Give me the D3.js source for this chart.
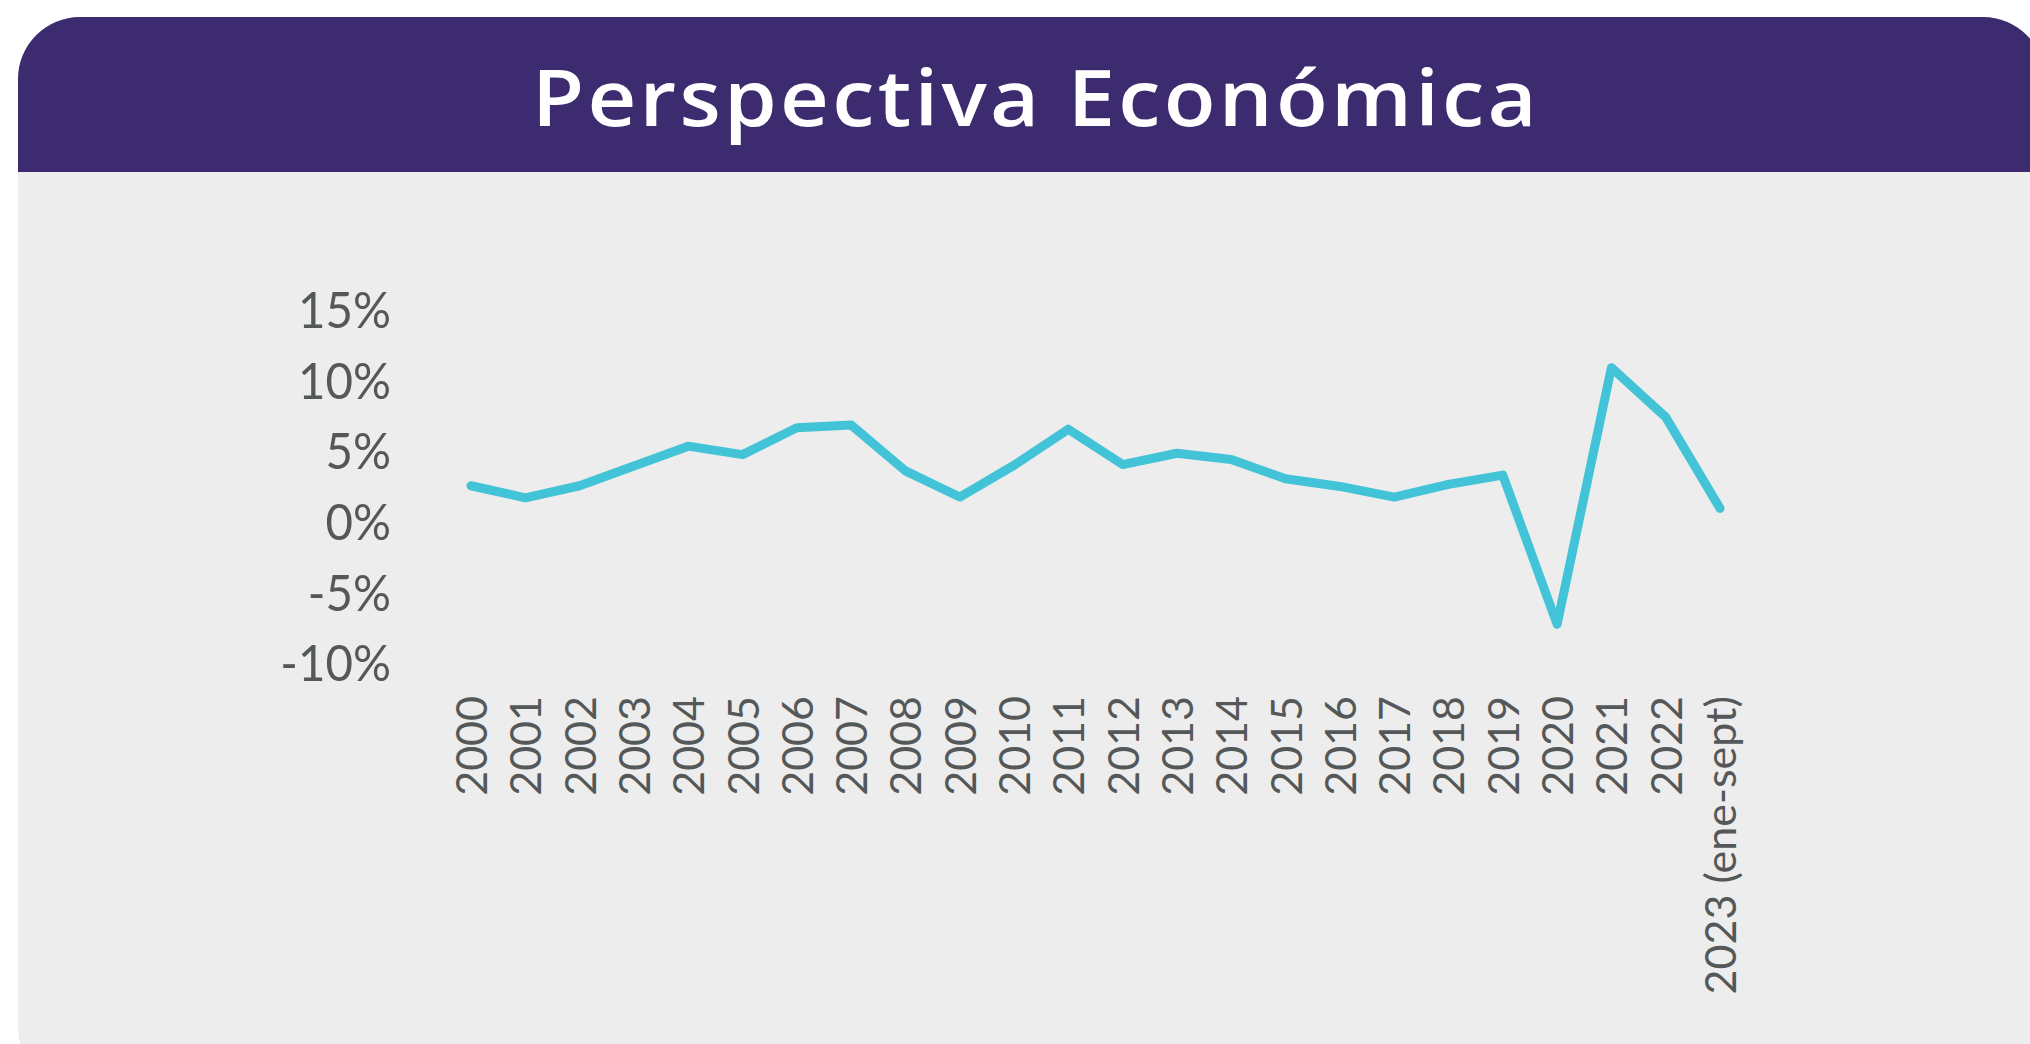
<!DOCTYPE html>
<html lang="es">
<head>
<meta charset="utf-8">
<script src="https://cdn.jsdelivr.net/npm/d3@7"></script>
<title>Perspectiva Económica</title>
<style>
  body { margin: 0; background: #fff; }
  svg { display: block; }
</style>
</head>
<body>
<svg id="chart" width="2030" height="1044"></svg>
<script>
// Data: PIB growth per year (%)
const years = ["2000", "2001", "2002", "2003", "2004", "2005", "2006", "2007", "2008", "2009",
  "2010", "2011", "2012", "2013", "2014", "2015", "2016", "2017", "2018", "2019",
  "2020", "2021", "2022", "2023 (ene-sept)"]
const growth = [2.5, 1.65, 2.5, 3.9, 5.3, 4.7, 6.6, 6.8, 3.55, 1.7,
  3.95, 6.5, 4.0, 4.8, 4.35, 3.0, 2.45, 1.7, 2.6, 3.25,
  -7.3, 10.85, 7.35, 0.9]
const yTicks = [-10, -5, 0, 5, 10, 15]
const title = "Perspectiva Económica"

const svg = d3.select("#chart")

// panel + header
const defs = svg.append("defs")
defs.append("clipPath").attr("id", "panelClip")
  .append("rect")
  .attr("x", 18).attr("y", 17)
  .attr("width", 2027).attr("height", 1072)
  .attr("rx", 62).attr("ry", 62)

const panel = svg.append("g").attr("clip-path", "url(#panelClip)")
panel.append("rect")
  .attr("x", 18).attr("y", 17)
  .attr("width", 2027).attr("height", 1072)
  .attr("fill", "#ededed")
panel.append("rect")
  .attr("x", 18).attr("y", 17)
  .attr("width", 2027).attr("height", 155)
  .attr("fill", "#3d2b6f")

// title: widen the glyphs a bit to fit the header width
const titleText = svg.append("text")
  .text(title)
  .attr("text-anchor", "middle")
  .style("font-family", "'Open Sans', sans-serif")
  .style("font-weight", 600)
  .style("font-size", "78px")
  .style("letter-spacing", "3px")
  .style("font-variant-ligatures", "none")
  .attr("fill", "#ffffff")
const tw = titleText.node().getComputedTextLength()
titleText.attr("transform", `translate(1036,126) scale(${1008 / tw},1)`)

// scales
const x = d3.scalePoint().domain(years).range([471, 1720])
const y = d3.scaleLinear().domain([-10, 15]).range([662.5, 309])

// y axis
const yAxis = d3.axisLeft(y)
  .tickValues(yTicks)
  .tickFormat(d => d + "%")
  .tickSize(0)
  .tickPadding(0)

const gy = svg.append("g")
  .attr("transform", "translate(391,0) scale(0.93,1)")
  .call(yAxis)
gy.select(".domain").remove()
gy.selectAll("text")
  .attr("x", 0)
  .attr("dy", "0.36em")
  .style("font-family", "Lato, sans-serif")
  .style("font-size", "51px")
  .attr("fill", "#555859")

// x axis
const xAxis = d3.axisBottom(x).tickSize(0).tickPadding(0)
const gx = svg.append("g")
  .attr("transform", "translate(0,696)")
  .call(xAxis)
gx.select(".domain").remove()
gx.selectAll("text")
  .attr("x", 0)
  .attr("y", 0)
  .attr("dy", "0.36em")
  .attr("transform", "rotate(-90)")
  .attr("text-anchor", "end")
  .style("font-family", "Lato, sans-serif")
  .style("font-size", "43px")
  .attr("fill", "#555859")

// line
const line = d3.line()
  .x((d, i) => x(years[i]))
  .y(d => y(d))

svg.append("path")
  .datum(growth)
  .attr("fill", "none")
  .attr("stroke", "#42c3d7")
  .attr("stroke-width", 9)
  .attr("stroke-linejoin", "round")
  .attr("stroke-linecap", "round")
  .attr("d", line)
</script>
</body>
</html>
